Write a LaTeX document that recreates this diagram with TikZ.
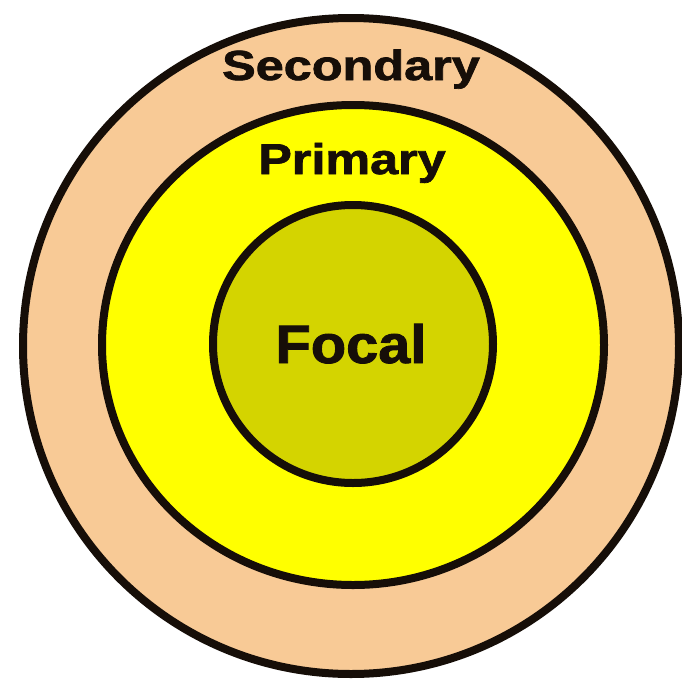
\documentclass[tikz,border=0pt]{standalone}
\usepackage{fontspec}
\setmainfont{Liberation Sans}
\newfontfamily\heavy[FakeBold=1.6]{Liberation Sans Bold}
\definecolor{peach}{RGB}{248,202,150}
\definecolor{brightyellow}{RGB}{255,255,0}
\definecolor{olive}{RGB}{212,212,0}
\definecolor{ink}{RGB}{22,14,8}
\tikzset{
  ring/.style={draw=ink, line width=8pt},
  lbl/.style={anchor=base, text=ink, inner sep=0pt, font=\heavy}
}
\begin{document}
\begin{tikzpicture}[x=1pt,y=-1pt]
\useasboundingbox[fill=white] (0,0) rectangle (682,686);
\path[ring, fill=peach] (351,346) ellipse [x radius=328, y radius=328];
\path[ring, fill=brightyellow] (353,345) ellipse [x radius=251, y radius=240];
\path[ring, fill=olive] (353,344) ellipse [x radius=140, y radius=139];
\node[lbl] (sec) at (351,80) {\fontsize{42}{42}\selectfont\scalebox{1.2}[1]{Secondary}};
\node[lbl] (pri) at (352,174) {\fontsize{43}{43}\selectfont\scalebox{1.17}[1]{Primary}};
\node[lbl] (foc) at (351,363) {\fontsize{54}{54}\selectfont\scalebox{1.07}[1]{Focal}};
\end{tikzpicture}
\end{document}
